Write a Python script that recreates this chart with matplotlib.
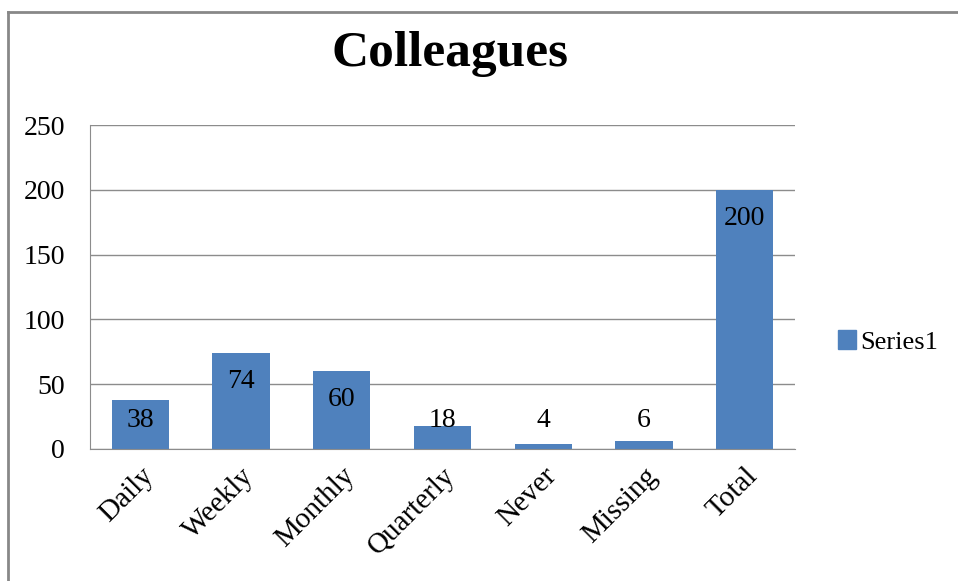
import matplotlib
matplotlib.use("Agg")
import matplotlib.pyplot as plt
import matplotlib.transforms as mtransforms
from matplotlib.lines import Line2D
from matplotlib.patches import Patch

# data
categories = ["Daily", "Weekly", "Monthly", "Quarterly", "Never", "Missing", "Total"]
values = [38, 74, 60, 18, 4, 6, 200]
yticks = [0, 50, 100, 150, 200, 250]

plt.rcParams['font.family'] = ['Liberation Serif', 'DejaVu Serif']

fig = plt.figure(figsize=(9.58, 5.81), dpi=100)
ax = fig.add_axes([90/958, 1-449/581, 705/958, 324/581])

x = range(len(categories))
bars = ax.bar(x, values, width=0.57, color="#4F81BD", zorder=2)

# labels inside end, pushed up for short bars
for xi, v in zip(x, values):
    ax.text(xi, max(v - 22, 22), str(v), ha="center", va="center", fontsize=20, zorder=3)

ax.set_xlim(-0.5, len(categories) - 0.5)
ax.set_ylim(0, 250)
ax.set_yticks(yticks)
ax.set_yticklabels([str(t) for t in yticks], fontsize=20)
ax.set_xticks(list(x))
ax.set_xticklabels(categories, fontsize=21, rotation=45, ha="right", rotation_mode="anchor")
shift = mtransforms.ScaledTranslation(-5/100, 0, fig.dpi_scale_trans)
for lbl in ax.get_xticklabels():
    lbl.set_transform(lbl.get_transform() + shift)
ax.tick_params(axis="x", length=0, pad=10)
ax.tick_params(axis="y", length=0, pad=18)
ax.yaxis.grid(True, color="#8c8c8c", linewidth=1, zorder=0)
for side in ["top", "right"]:
    ax.spines[side].set_visible(False)
for side in ["left", "bottom"]:
    ax.spines[side].set_color("#8c8c8c")

fig.text(450/958, 1-54/581, "Colleagues", ha="center", va="center", fontsize=37, fontweight="bold")

fig.legend(handles=[Patch(color="#4F81BD", label="Series1")], loc="center left",
           bbox_to_anchor=(814/958, 1-342/581), frameon=False, fontsize=19,
           handlelength=0.7, handleheight=0.7, handletextpad=0.15)

# chart frame (left and top edges)
fig.add_artist(Line2D([8/958, 8/958], [0, 1-12/581], color="#888888", linewidth=2))
fig.add_artist(Line2D([8/958, 1], [1-12/581, 1-12/581], color="#888888", linewidth=2))

fig.savefig("out.png", dpi=100)
